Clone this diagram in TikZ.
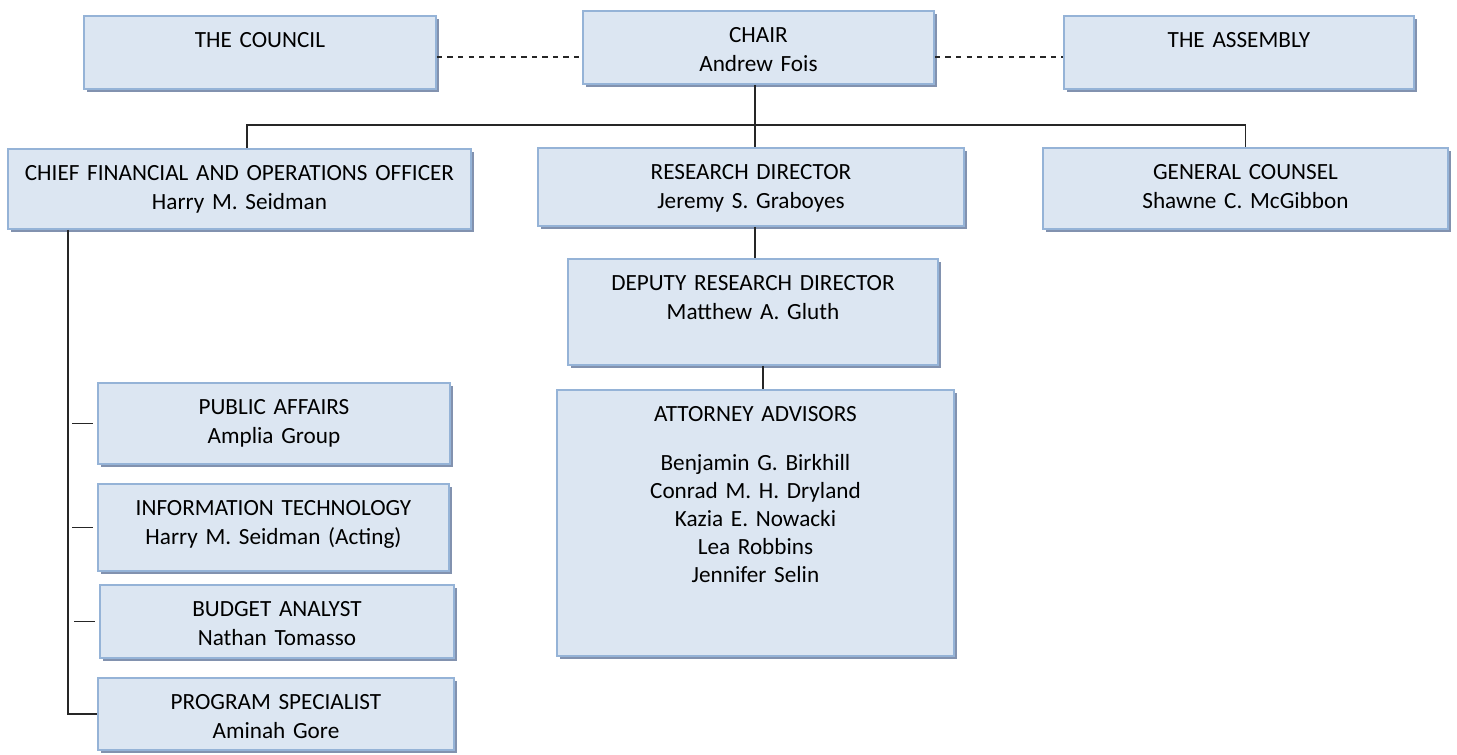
\documentclass[tikz,border=0pt]{standalone}
\usepackage{fontspec}
\setmainfont{Carlito}
\usetikzlibrary{shadows}
\definecolor{boxfill}{RGB}{220,230,242}
\definecolor{boxline}{RGB}{149,179,215}
\definecolor{boxshade}{RGB}{130,146,175}
\newcommand{\pix}{0.02cm}

\begin{document}
\begin{tikzpicture} [x=0.02cm, y=-0.02cm,
  box/.style={draw=boxline, fill=boxfill, line width=1.1pt, anchor=north west, inner sep=0pt,
    align=center, text height=32*\pix, font=\fontsize{13.2}{16}\selectfont, text=black,
    general shadow={fill=boxshade, shadow xshift=0.07cm, shadow yshift=-0.07cm}},
  tree/.style={black!85, line width=0.8pt}]
\useasboundingbox (0,0) rectangle (1457,754);

% top row
\node[box, text width=352*\pix, text depth=41*\pix] (council) at (83,15) {THE COUNCIL};
\node[box, text width=351*\pix, text depth=41*\pix] (chair) at (582,10) {CHAIR\\Andrew Fois};
\node[box, text width=350*\pix, text depth=41*\pix] (assembly) at (1063,15) {THE ASSEMBLY};

% second row
\node[box, text width=463*\pix, text depth=48*\pix] (cfo) at (7,148) {CHIEF FINANCIAL AND OPERATIONS OFFICER\\Harry M. Seidman};
\node[box, text width=426*\pix, text depth=46*\pix] (research) at (537,147) {RESEARCH DIRECTOR\\Jeremy S. Graboyes};
\node[box, text width=405*\pix, text depth=49*\pix] (counsel) at (1042,147) {GENERAL COUNSEL\\Shawne C. McGibbon};

% research column
\node[box, text width=370*\pix, text depth=74*\pix] (deputy) at (567,258) {DEPUTY RESEARCH DIRECTOR\\Matthew A. Gluth};
\node[box, text width=397*\pix, text depth=234*\pix] (advisors) at (556,389) {ATTORNEY ADVISORS\\[0.4cm]Benjamin G. Birkhill\\Conrad M. H. Dryland\\Kazia E. Nowacki\\Lea Robbins\\Jennifer Selin};

% cfo column
\foreach \n/\x/\y/\w/\d/\t in {affairs/97/382/352/49/{PUBLIC AFFAIRS\\Amplia Group},
    infotech/97/483/351/55/{INFORMATION TECHNOLOGY\\Harry M. Seidman (Acting)},
    budget/99/584/354/41/{BUDGET ANALYST\\Nathan Tomasso},
    program/97/677/356/40/{PROGRAM SPECIALIST\\Aminah Gore}} {
 \node[box, text width=\w*\pix, text depth=\d*\pix] (\n) at (\x,\y) {\t};
}

% dashed links
\coordinate (cl) at ([yshift=-0.09cm]council.east);
\coordinate (cr) at ([yshift=-0.09cm]assembly.west);
\draw[tree, dashed] (cl) -- (cl -| chair.west);
\draw[tree, dashed] (chair.east |- cr) -- (cr);

% reporting lines
\coordinate (bus) at (755,125);
\draw[tree] (chair.south -| bus) -- (bus);
\draw[tree] ([xshift=0.15cm]cfo.north) |- (bus) -| (counsel.north);
\draw[tree] (bus) -- (bus |- research.north);
\draw[tree] (research.south -| bus) -- (deputy.north -| bus);
\coordinate (dn) at ([xshift=0.2cm]deputy.south);
\draw[tree] (dn) -- (dn |- advisors.north);

\coordinate (spine) at ([xshift=1.22cm]cfo.south west);
\draw[tree] (spine) |- (program.west);
\foreach \n in {affairs, infotech, budget} {
 \draw[tree] ([xshift=-0.5cm]\n.west) -- ([xshift=-0.08cm]\n.west);
}
\end{tikzpicture}
\end{document}
